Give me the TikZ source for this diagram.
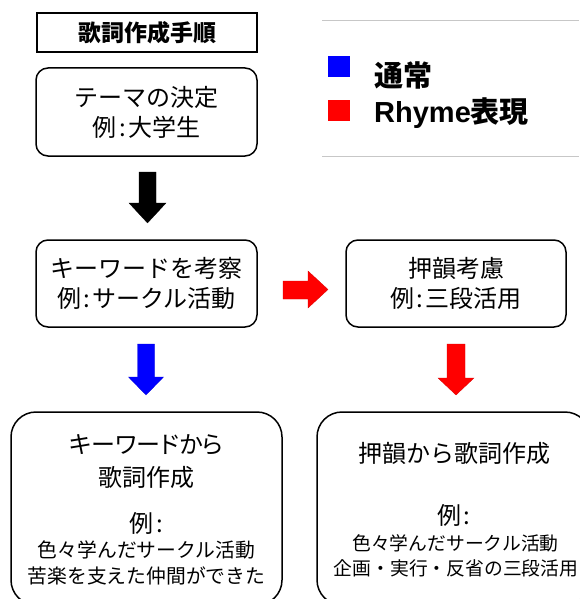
\documentclass[tikz,border=0pt]{standalone}
\usepackage{fontspec}
\setmainfont{Noto Sans CJK JP}
\newfontfamily\lib{Liberation Sans}
\definecolor{pblue}{RGB}{0,0,255}
\definecolor{pred}{RGB}{255,0,0}
\newcommand{\rcolon}{\hspace{2.5pt}:\hspace{2.5pt}}
\begin{document}
\begin{tikzpicture}[x=1pt,y=-1pt,
  box/.style={draw, line width=1.5pt, rounded corners=12pt, inner sep=0pt, align=center, font=\fontsize{24}{30}\selectfont},
  bigbox/.style={draw, line width=1.5pt, rounded corners=25pt, inner sep=0pt, minimum height=193pt},
  big/.style={inner sep=0pt, font=\fontsize{24}{24}\selectfont},
  small/.style={inner sep=0pt, font=\fontsize{19.8}{19.8}\selectfont},
  blockarrow/.style={line width=0.3pt, line join=miter},
  legsq/.style={rectangle, inner sep=0pt, minimum width=22pt, minimum height=21pt},
  legtxt/.style={anchor=west, inner sep=0pt, font=\fontsize{29}{29}\selectfont\bfseries}]
\useasboundingbox (0,0) rectangle (579,599);

% title and first box
\node[draw, line width=1.2pt, minimum width=220pt, minimum height=39pt, inner sep=0pt,
      font=\fontsize{23}{28}\selectfont\bfseries] (title) at (147,32.5) {歌詞作成手順};
\node[box, minimum width=221pt, minimum height=88pt] (theme) at (146.5,112) {テーマの決定\\例\rcolon 大学生};

% legend
\draw[black!22, line width=1pt] (322,21) -- (579,21);
\draw[black!22, line width=1pt] (322,156) -- (579,156);
\node[legsq, fill=pblue] (lb) at (339,66.5) {};
\node[legsq, fill=pred] (lr) at (339,110.5) {};
\node[legtxt] (lbt) at (374,75) {通常};
\node[legtxt] (lrt) at (374,113) {{\lib\bfseries Rhyme}表現};

% middle row
\node[box, minimum width=221pt, minimum height=87pt] (kw) at (146.5,283.5) {キーワードを考察\\例\rcolon サークル活動};
\node[box, minimum width=220pt, minimum height=87pt] (rh) at (456,283.5) {押韻考慮\\例\rcolon 三段活用};

% bottom boxes
\node[bigbox, minimum width=271pt] (bl) at (146.5,508.5) {};
\node[bigbox, minimum width=273pt] (br) at (453.5,508.5) {};

% block arrows
\filldraw[blockarrow, fill=black, draw=black]
  (139,172) -- (156,172) -- (156,203) -- (166,203) -- (147.5,223) -- (129,203) -- (139,203) -- cycle;
\filldraw[blockarrow, fill=pred, draw=pred!85!black]
  (283,281) -- (308,281) -- (308,271) -- (328,289.5) -- (308,308) -- (308,299) -- (283,299) -- cycle;
\filldraw[blockarrow, fill=pblue, draw=pblue!85!black]
  (137.5,344) -- (154.5,344) -- (154.5,377) -- (163.5,377) -- (146,395) -- (128.5,377) -- (137.5,377) -- cycle;
\filldraw[blockarrow, fill=pred, draw=pred!85!black]
  (447,344) -- (465,344) -- (465,378) -- (474,378) -- (456,395) -- (438,378) -- (447,378) -- cycle;

% bottom texts
\node[big, font=\fontsize{24}{24}\selectfont\addfontfeatures{RawFeature=+palt}] (bl1) at (146.5,445) {キーワードから};
\node[big] (bl2) at (146.5,477) {歌詞作成};
\node[big] (bl3) at (146.5,523) {例\rcolon};
\node[small] (bl4) at (146.5,550) {色々学んだサークル活動};
\node[small] (bl5) at (146.5,576) {苦楽を支えた仲間ができた};

\node[big] (br1) at (454,453) {押韻から歌詞作成};
\node[big] (br2) at (454,515) {例\rcolon};
\node[small, font=\fontsize{18.8}{18.8}\selectfont] (br3) at (455.5,543) {色々学んだサークル活動};
\node[small, font=\fontsize{18.8}{18.8}\selectfont] (br4) at (456,568) {企画・実行・反省の三段活用};
\end{tikzpicture}
\end{document}
